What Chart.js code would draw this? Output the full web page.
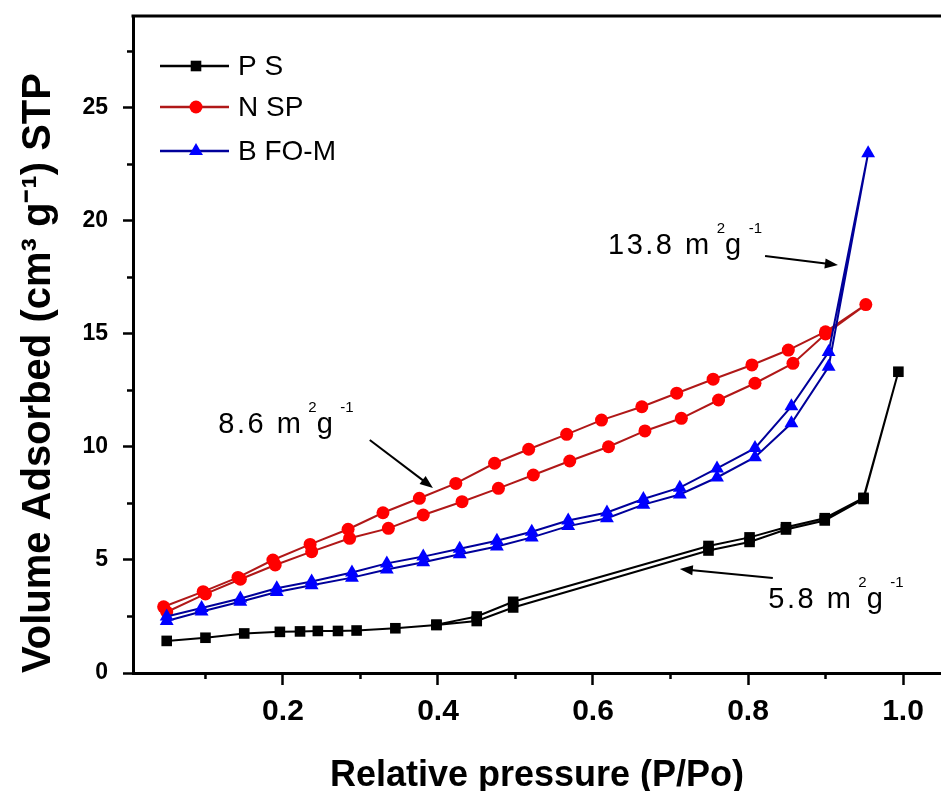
<!DOCTYPE html>
<html><head><meta charset="utf-8">
<script src="https://cdn.jsdelivr.net/npm/chart.js@4.4.0/dist/chart.umd.min.js"></script>
<style>html,body{margin:0;padding:0;background:#fff;overflow:hidden}canvas{display:block}</style>
</head><body>
<canvas id="c" width="941" height="791"></canvas>
<script>
// ---- data ----
const seriesNames = ['P S', 'N SP', 'B FO-M'];

// PS : adsorption branch then desorption branch
const psAdsX = [0.05, 0.1, 0.15, 0.196, 0.222, 0.245, 0.271, 0.295, 0.345, 0.398, 0.45, 0.497, 0.749, 0.802, 0.849, 0.899, 0.949, 0.994];
const psAdsY = [1.42, 1.56, 1.75, 1.82, 1.84, 1.86, 1.86, 1.88, 1.98, 2.12, 2.3, 2.9, 5.42, 5.8, 6.35, 6.75, 7.7, 13.33];
const psDesX = [0.949, 0.899, 0.849, 0.802, 0.749, 0.497, 0.45, 0.398];
const psDesY = [7.75, 6.85, 6.45, 6.0, 5.62, 3.15, 2.5, 2.14];

// NSP
const nspAdsX = [0.05, 0.1, 0.145, 0.19, 0.237, 0.286, 0.336, 0.381, 0.431, 0.478, 0.523, 0.57, 0.62, 0.667, 0.714, 0.762, 0.809, 0.858, 0.9, 0.952];
const nspAdsY = [2.7, 3.5, 4.15, 4.78, 5.37, 5.96, 6.4, 6.99, 7.58, 8.17, 8.76, 9.38, 10.01, 10.71, 11.27, 12.08, 12.82, 13.7, 15.0, 16.3];
const nspDesX = [0.9, 0.852, 0.805, 0.755, 0.708, 0.663, 0.611, 0.566, 0.517, 0.473, 0.423, 0.376, 0.329, 0.284, 0.235, 0.187, 0.142, 0.097, 0.046];
const nspDesY = [15.1, 14.29, 13.63, 13.0, 12.38, 11.78, 11.19, 10.56, 9.9, 9.28, 8.39, 7.73, 7.09, 6.36, 5.69, 5.0, 4.23, 3.6, 2.93];

// BFO-M
const bfoAdsX = [0.05, 0.095, 0.145, 0.192, 0.237, 0.289, 0.334, 0.381, 0.428, 0.476, 0.521, 0.568, 0.618, 0.665, 0.712, 0.76, 0.809, 0.856, 0.904, 0.955];
const bfoAdsY = [2.3, 2.72, 3.15, 3.58, 3.88, 4.22, 4.58, 4.9, 5.25, 5.6, 6.0, 6.5, 6.85, 7.45, 7.9, 8.65, 9.55, 11.05, 13.55, 23.0];
const bfoDesX = [0.904, 0.856, 0.809, 0.76, 0.712, 0.665, 0.618, 0.568, 0.521, 0.476, 0.428, 0.381, 0.334, 0.289, 0.237, 0.192, 0.145, 0.095, 0.05];
const bfoDesY = [14.2, 11.8, 9.95, 9.05, 8.2, 7.7, 7.1, 6.75, 6.25, 5.85, 5.5, 5.15, 4.85, 4.45, 4.05, 3.75, 3.3, 2.88, 2.5];

const xTicks = [0.2, 0.4, 0.6, 0.8, 1.0];
const xMinorTicks = [0.1, 0.3, 0.5, 0.7, 0.9];
const yTicks = [0, 5, 10, 15, 20, 25];
const yMinorTicks = [2.5, 7.5, 12.5, 17.5, 22.5, 27.5];

const xTitle = 'Relative pressure (P/Po)';
const yTitle = 'Volume Adsorbed (cm\u00B3 g\u207B\u00B9) STP';

// annotations: text pieces [text, isSuperscript], anchor and arrow in data units
const annotations = [
  { parts: [['13.8 m', 0], ['2', 1], ['g', 0], ['-1', 1]], at: [0.6194, 18.54], from: [0.822, 18.45], to: [0.916, 18.05] },
  { parts: [['8.6 m', 0], ['2', 1], ['g', 0], ['-1', 1]], at: [0.1165, 10.63], from: [0.312, 10.31], to: [0.3935, 8.19] },
  { parts: [['5.8 m', 0], ['2', 1], ['g', 0], ['-1', 1]], at: [0.8262, 2.86], from: [0.832, 4.20], to: [0.712, 4.60] }
];

// ---- build ----
const pts = (xs, ys) => xs.map((x, i) => ({ x: x, y: ys[i] }));
const FONT = "'Liberation Sans', Arial, Helvetica, sans-serif";

const bgPlugin = {
  id: 'bg',
  beforeDraw(chart) {
    const c = chart.ctx;
    c.save(); c.fillStyle = '#fff'; c.fillRect(0, 0, chart.width, chart.height); c.restore();
  }
};

const decoPlugin = {
  id: 'deco',
  afterDraw(chart) {
    const c = chart.ctx, a = chart.chartArea;
    const xs = chart.scales.x, ys = chart.scales.y;
    c.save();
    // top frame
    c.strokeStyle = '#000'; c.lineWidth = 3;
    c.beginPath(); c.moveTo(a.left - 1.5, a.top); c.lineTo(chart.width, a.top); c.stroke();
    // minor ticks
    c.lineWidth = 2.5;
    xMinorTicks.forEach(v => {
      const p = xs.getPixelForValue(v);
      c.beginPath(); c.moveTo(p, xs.top); c.lineTo(p, xs.top + 6); c.stroke();
    });
    yMinorTicks.forEach(v => {
      const p = ys.getPixelForValue(v);
      c.beginPath(); c.moveTo(ys.right, p); c.lineTo(ys.right - 6, p); c.stroke();
    });
    // legend
    const rows = [50, 91, 135];
    chart.data.datasets.forEach((ds, i) => {
      const y = a.top + rows[i];
      const x0 = a.left + 27, x1 = a.left + 96, xm = a.left + 63;
      c.strokeStyle = ds.borderColor; c.lineWidth = 2.5;
      c.beginPath(); c.moveTo(x0, y); c.lineTo(x1, y); c.stroke();
      c.fillStyle = ds.pointBackgroundColor;
      Chart.helpers.drawPoint(c, { pointStyle: ds.pointStyle, radius: ds.pointRadius, rotation: 0, borderWidth: 0 }, xm, y);
      c.fillStyle = '#000'; c.font = '28px ' + FONT; c.textBaseline = 'middle'; c.textAlign = 'left';
      c.fillText(ds.label, a.left + 105, y + 1);
    });
    // annotations
    c.fillStyle = '#000'; c.strokeStyle = '#000';
    annotations.forEach(an => {
      let x = xs.getPixelForValue(an.at[0]);
      const y = ys.getPixelForValue(an.at[1]);
      c.textBaseline = 'alphabetic'; c.textAlign = 'left';
      an.parts.forEach(([t, sup]) => {
        if (sup) { c.font = '15px ' + FONT; try { c.letterSpacing = '0px'; } catch (e) {} x += 5; }
        else { c.font = '29px ' + FONT; try { c.letterSpacing = '2.5px'; } catch (e) {} }
        c.fillText(t, x, sup ? y - 21 : y);
        x += c.measureText(t).width;
      });
      try { c.letterSpacing = '0px'; } catch (e) {}
      const fx = xs.getPixelForValue(an.from[0]), fy = ys.getPixelForValue(an.from[1]);
      const tx = xs.getPixelForValue(an.to[0]), ty = ys.getPixelForValue(an.to[1]);
      const ang = Math.atan2(ty - fy, tx - fx), L = 13, W = 5;
      c.lineWidth = 2;
      c.beginPath(); c.moveTo(fx, fy); c.lineTo(tx - Math.cos(ang) * L * 0.8, ty - Math.sin(ang) * L * 0.8); c.stroke();
      c.beginPath();
      c.moveTo(tx, ty);
      c.lineTo(tx - Math.cos(ang) * L - Math.sin(ang) * W, ty - Math.sin(ang) * L + Math.cos(ang) * W);
      c.lineTo(tx - Math.cos(ang) * L + Math.sin(ang) * W, ty - Math.sin(ang) * L - Math.cos(ang) * W);
      c.closePath(); c.fill();
    });
    c.restore();
  }
};

new Chart(document.getElementById('c').getContext('2d'), {
  type: 'scatter',
  data: {
    datasets: [
      { label: seriesNames[0], data: pts(psAdsX.concat(psDesX), psAdsY.concat(psDesY)), showLine: true,
        borderColor: '#000000', backgroundColor: '#000000', pointBackgroundColor: '#000000', borderWidth: 2,
        pointStyle: 'rect', pointRadius: 7.5, pointBorderWidth: 0, order: 2 },
      { label: seriesNames[1], data: pts(nspAdsX.concat(nspDesX), nspAdsY.concat(nspDesY)), showLine: true,
        borderColor: '#b01818', backgroundColor: '#ff0000', pointBackgroundColor: '#ff0000', borderWidth: 2,
        pointStyle: 'circle', pointRadius: 6.5, pointBorderWidth: 0, order: 1 },
      { label: seriesNames[2], data: pts(bfoAdsX.concat(bfoDesX), bfoAdsY.concat(bfoDesY)), showLine: true,
        borderColor: '#00009a', backgroundColor: '#0000ff', pointBackgroundColor: '#0000ff', borderWidth: 2,
        pointStyle: 'triangle', pointRadius: 8, pointBorderWidth: 0, order: 0 }
    ]
  },
  options: {
    responsive: false, animation: false, events: [],
    layout: { autoPadding: false, padding: { top: 16, left: 0, right: 0, bottom: 0 } },
    plugins: { legend: { display: false }, tooltip: { enabled: false } },
    scales: {
      x: {
        type: 'linear', min: 0.0065, max: 1.049,
        afterBuildTicks: s => { s.ticks = xTicks.map(v => ({ value: v })); },
        afterFit: s => { s.height = 118; s.paddingLeft = 0; s.paddingRight = 0; },
        ticks: { font: { family: FONT, size: 30, weight: 'bold' }, color: '#000', padding: 9, maxRotation: 0, autoSkip: false,
                 callback: v => Number(v).toFixed(1) },
        grid: { drawOnChartArea: false, drawTicks: true, tickLength: 12, tickWidth: 2.5, tickColor: '#000' },
        border: { display: true, color: '#000', width: 3 },
        title: { display: true, text: xTitle, color: '#000', font: { family: FONT, size: 36, weight: 'bold', lineHeight: 1 },
                 padding: { top: 0, bottom: -3.5 } }
      },
      y: {
        type: 'linear', min: 0, max: 29.07,
        afterBuildTicks: s => { s.ticks = yTicks.map(v => ({ value: v })); },
        afterFit: s => { s.width = 133; s.paddingTop = 0; s.paddingBottom = 0; },
        ticks: { font: { family: FONT, size: 23, weight: 'bold' }, color: '#000', padding: 15, autoSkip: false,
                 callback: v => String(v) },
        grid: { drawOnChartArea: false, drawTicks: true, tickLength: 10, tickWidth: 2.5, tickColor: '#000' },
        border: { display: true, color: '#000', width: 3 },
        title: { display: true, text: yTitle, align: 'start', color: '#000', font: { family: FONT, size: 40, weight: 'bold', lineHeight: 1.2 },
                 padding: { top: 15, bottom: 0 } }
      }
    }
  },
  plugins: [bgPlugin, decoPlugin]
});
</script>
</body></html>
